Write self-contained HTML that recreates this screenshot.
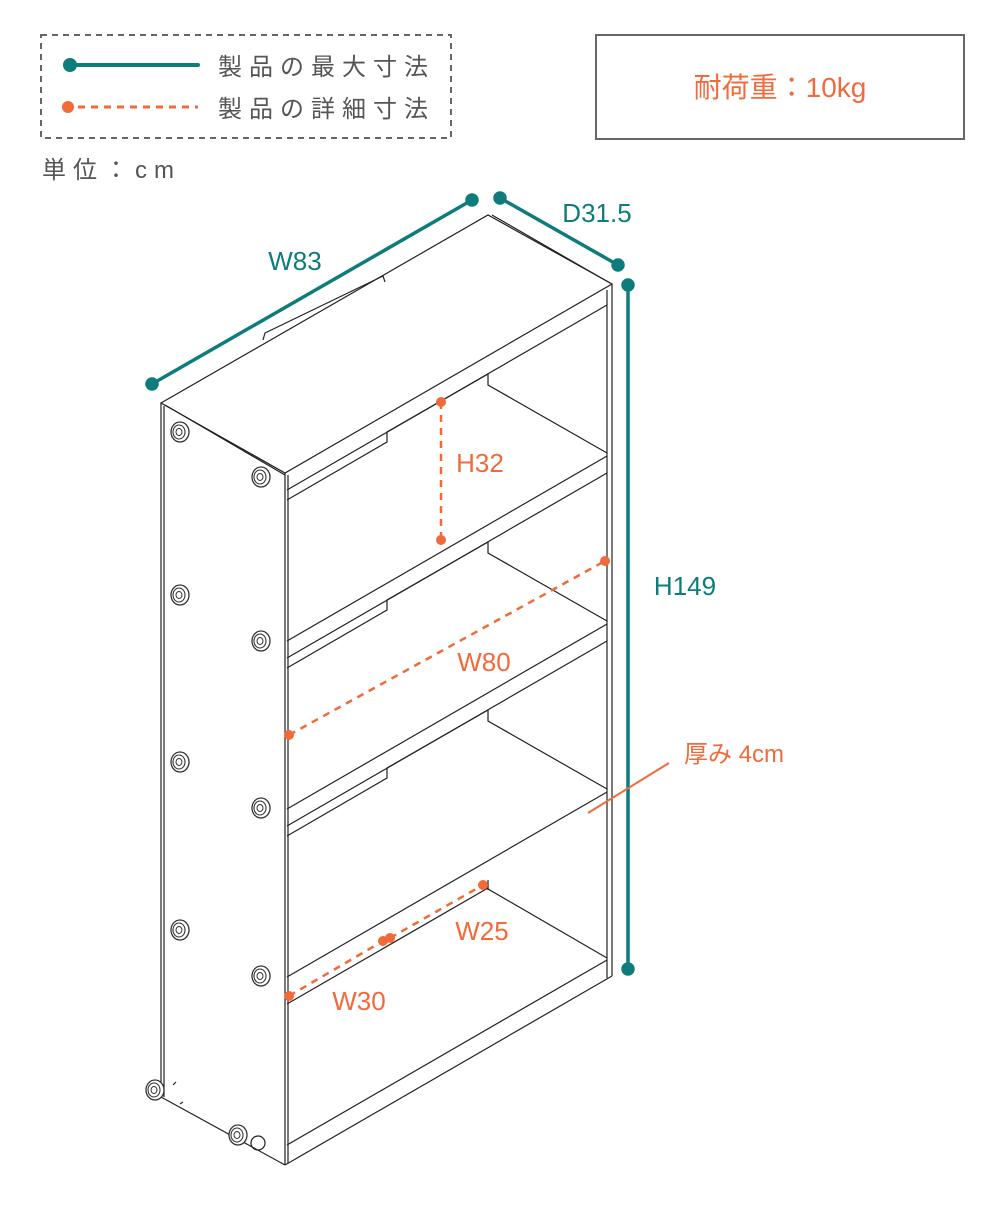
<!DOCTYPE html>
<html><head><meta charset="utf-8"><style>
html,body{margin:0;padding:0;background:#fff;}
svg{display:block;}
text{font-family:"Liberation Sans","Noto Sans CJK JP",sans-serif;}
</style></head><body>
<svg width="1000" height="1205" viewBox="0 0 1000 1205" xmlns="http://www.w3.org/2000/svg">
<defs>
<g id="bolt"><ellipse cx="0" cy="0" rx="9" ry="10" fill="#fff" stroke="#333" stroke-width="1.3"/><ellipse cx="-1" cy="0" rx="6" ry="7" fill="none" stroke="#333" stroke-width="1.1"/><ellipse cx="-1" cy="0" rx="3" ry="3.5" fill="none" stroke="#333" stroke-width="1"/></g>
</defs>
<!-- legend -->
<rect x="41" y="35" width="410" height="103" fill="none" stroke="#666" stroke-width="2" stroke-dasharray="6,5"/>
<line x1="70" y1="65" x2="198" y2="65" stroke="#0e7c7b" stroke-width="4" stroke-linecap="round"/>
<circle cx="70" cy="65" r="7" fill="#0e7c7b"/>
<line x1="78" y1="107" x2="198" y2="107" stroke="#f26a3a" stroke-width="3" stroke-dasharray="7,6"/>
<circle cx="68" cy="107" r="6" fill="#f26a3a"/>
<text x="218" y="75" font-size="24" fill="#555" letter-spacing="7">製品の最大寸法</text>
<text x="218" y="117" font-size="24" fill="#555" letter-spacing="7">製品の詳細寸法</text>
<text x="42" y="178" font-size="24" fill="#555" letter-spacing="7">単位：cm</text>
<rect x="596" y="35" width="368" height="104" fill="none" stroke="#666" stroke-width="2"/>
<text x="780" y="97" font-size="28" fill="#f26a3a" text-anchor="middle">耐荷重：10kg</text>

<g stroke="#222" stroke-width="1.2" fill="none">
<path d="M161,403 L488,215 L612,284 L285,473 Z" fill="#fff"/>
<line x1="492" y1="215" x2="610" y2="283"/>
<line x1="165" y1="405" x2="285" y2="475"/>
<path d="M263,340 L265,333 L383,276 L385,282"/>
<line x1="161" y1="403" x2="161" y2="1097"/>
<line x1="164" y1="406" x2="164" y2="1097"/>
<line x1="161" y1="1097" x2="285" y2="1165"/>
<line x1="285" y1="473" x2="285" y2="1165"/>
<line x1="288" y1="475" x2="288" y2="1163"/>
<line x1="612" y1="284" x2="612" y2="976"/>
<line x1="607" y1="290" x2="607" y2="978"/>
<line x1="285" y1="1165" x2="612" y2="976"/>
<line x1="287" y1="490" x2="607" y2="305"/>
<line x1="287" y1="641" x2="607" y2="456"/>
<line x1="287" y1="658" x2="607" y2="473"/>
<line x1="287" y1="809" x2="607" y2="624"/>
<line x1="287" y1="826" x2="607" y2="641"/>
<line x1="287" y1="977" x2="607" y2="792"/>
<line x1="287" y1="1145" x2="607" y2="960"/>
<path d="M287,500 L387,442 L387,432 L488,374 L488,385 L607,453"/>
<path d="M287,668 L387,610 L387,600 L488,542 L488,553 L607,621"/>
<path d="M287,836 L387,778 L387,768 L488,710 L488,721 L607,789"/>
<path d="M287,1004 L488,888 L488,889 L607,958"/>
<line x1="488" y1="880" x2="488" y2="890"/>
<circle cx="258" cy="1143" r="7"/>
<path d="M173,1085 l3,-3 M180,1104 l3,-2"/>
</g>
<use href="#bolt" x="180" y="432"/><use href="#bolt" x="180" y="595"/><use href="#bolt" x="180" y="762"/><use href="#bolt" x="180" y="930"/>
<use href="#bolt" x="261" y="477"/><use href="#bolt" x="261" y="641"/><use href="#bolt" x="261" y="808"/><use href="#bolt" x="261" y="976"/>
<use href="#bolt" x="155" y="1090"/><use href="#bolt" x="238" y="1135"/>

<g stroke="#0e7c7b" stroke-width="3.5" fill="#0e7c7b">
<line x1="152" y1="384" x2="472" y2="200"/>
<line x1="500" y1="198" x2="618" y2="265"/>
<line x1="628" y1="285" x2="628" y2="969"/>
<circle cx="152" cy="384" r="5"/><circle cx="472" cy="200" r="5"/>
<circle cx="500" cy="198" r="5"/><circle cx="618" cy="265" r="5"/>
<circle cx="628" cy="285" r="5"/><circle cx="628" cy="969" r="5"/>
</g>
<g fill="#0e7c7b" font-size="26">
<text x="295" y="270" text-anchor="middle">W83</text>
<text x="597" y="222" text-anchor="middle">D31.5</text>
<text x="685" y="595" text-anchor="middle">H149</text>
</g>
<g stroke="#f26a3a" stroke-width="2.5" stroke-dasharray="7,6" fill="none">
<line x1="441" y1="402" x2="441" y2="540"/>
<line x1="289" y1="735" x2="605" y2="561"/>
<line x1="289" y1="996" x2="383" y2="941"/>
<line x1="390" y1="938" x2="483" y2="885"/>
</g>
<line x1="669" y1="763" x2="588" y2="813" stroke="#f26a3a" stroke-width="2"/>
<g fill="#f26a3a">
<circle cx="441" cy="402" r="5"/><circle cx="441" cy="540" r="5"/>
<circle cx="289" cy="735" r="5"/><circle cx="605" cy="561" r="5"/>
<circle cx="289" cy="996" r="5"/><circle cx="383" cy="941" r="5"/>
<circle cx="390" cy="938" r="5"/><circle cx="483" cy="885" r="5"/>
</g>
<g fill="#f26a3a" font-size="26">
<text x="480" y="472" text-anchor="middle">H32</text>
<text x="484" y="671" text-anchor="middle">W80</text>
<text x="482" y="940" text-anchor="middle">W25</text>
<text x="359" y="1010" text-anchor="middle">W30</text>
<text x="684" y="762" font-size="24">厚み 4cm</text>
</g>
</svg>
</body></html>
